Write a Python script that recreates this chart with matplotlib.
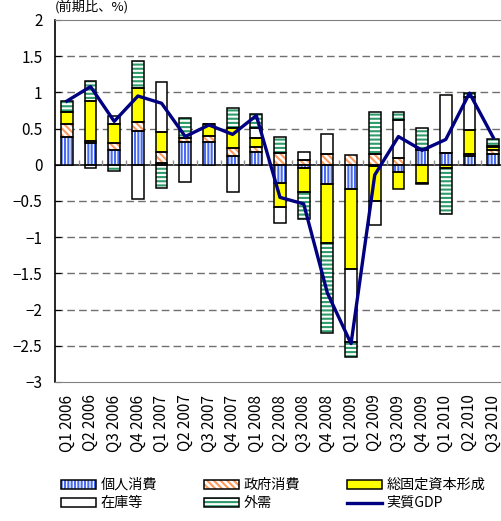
import numpy as np
import matplotlib
matplotlib.use('Agg')
import matplotlib.pyplot as plt
from matplotlib.patches import Patch
from matplotlib.lines import Line2D
from matplotlib.legend_handler import HandlerTuple

plt.rcParams['font.family'] = ['Noto Sans CJK JP', 'DejaVu Sans']
plt.rcParams['hatch.linewidth'] = 1.5

# Quarter labels
quarters = ['Q1 2006', 'Q2 2006', 'Q3 2006', 'Q4 2006',
            'Q1 2007', 'Q2 2007', 'Q3 2007', 'Q4 2007',
            'Q1 2008', 'Q2 2008', 'Q3 2008', 'Q4 2008',
            'Q1 2009', 'Q2 2009', 'Q3 2009', 'Q4 2009',
            'Q1 2010', 'Q2 2010', 'Q3 2010']

# Contributions (percentage points)
kojin = [0.39, 0.30, 0.21, 0.46, 0.02, 0.32, 0.31, 0.115, 0.175, -0.25,
         -0.05, -0.27, -0.335, -0.01, -0.10, 0.21, 0.16, 0.12, 0.15]
seifu = [0.18, 0.03, 0.09, 0.13, 0.15, 0.05, 0.09, 0.115, 0.065, 0.16,
         0.07, 0.15, 0.14, 0.15, 0.10, 0.01, 0.0, 0.03, 0.06]
kotei = [0.16, 0.55, 0.27, 0.47, 0.28, 0.0, 0.17, 0.285, 0.13, -0.33,
         -0.32, -0.81, -1.10, -0.49, -0.23, -0.25, -0.045, 0.33, 0.03]
zaiko = [0.0, -0.05, 0.10, -0.47, 0.69, -0.24, 0.0, -0.37, 0.145, -0.23,
         0.10, 0.27, -1.01, -0.33, 0.52, -0.02, 0.80, 0.45, 0.02]
gaiju = [0.15, 0.28, -0.08, 0.38, -0.32, 0.27, 0.0, 0.265, 0.185, 0.23,
         -0.38, -1.24, -0.21, 0.58, 0.11, 0.29, -0.64, 0.06, 0.10]
gdp = [0.88, 1.08, 0.60, 0.95, 0.85, 0.39, 0.55, 0.42, 0.68, -0.45,
       -0.54, -1.77, -2.47, -0.14, 0.39, 0.20, 0.35, 0.99, 0.38]

names = ['個人消費', '政府消費', '総固定資本形成', '在庫等', '外需']
series = [kojin, seifu, kotei, zaiko, gaiju]
# (face, hatch, hatch colour)
styles = [('white', '|||||', '#4a6cf2'),
          ('white', '\\\\\\\\\\', '#ff9a5c'),
          ('#ffff00', '', '#ffff00'),
          ('white', '', 'white'),
          ('white', '----', '#2f9a6a')]

fig = plt.figure(figsize=(5.01, 5.21), dpi=100)
ax = fig.add_axes([55 / 501, 139 / 521, 450 / 501, 362 / 521])

x = np.arange(len(quarters))
w = 0.5
pos = np.zeros(len(x))
neg = np.zeros(len(x))
handles = []
for vals, name, (fc, hatch, hc) in zip(series, names, styles):
    v = np.array(vals)
    bottom = np.where(v >= 0, pos, neg)
    ax.bar(x, v, w, bottom=bottom, color=fc, hatch=hatch, edgecolor=hc,
           linewidth=0, zorder=3)
    ax.bar(x, v, w, bottom=bottom, fill=False, edgecolor='black',
           linewidth=1.1, zorder=4)
    pos = pos + np.clip(v, 0, None)
    neg = neg + np.clip(v, None, 0)
    handles.append((Patch(facecolor=fc, hatch=hatch, edgecolor=hc, linewidth=0),
                    Patch(fill=False, edgecolor='black', linewidth=1.1)))

ax.plot(x, gdp, color='#000080', linewidth=2.4, zorder=5)

ax.set_xlim(-0.5, len(x) - 0.5)
ax.set_ylim(-3, 2)
ax.set_yticks(np.arange(-3, 2.01, 0.5))
ax.set_yticklabels(['\u22123', '\u22122.5', '\u22122', '\u22121.5', '\u22121',
                    '\u22120.5', '0', '0.5', '1', '1.5', '2'], fontsize=11)
for yv in np.arange(-2.5, 1.6, 0.5):
    if abs(yv) > 1e-9:
        ax.axhline(yv, color='#707070', linewidth=1.0,
                   linestyle=(0, (5.5, 3)), zorder=1)
ax.axhline(0, color='black', linewidth=1.1, zorder=2)
ax.vlines(x[1:] - 0.5, 0, 0.07, color='#909090', linewidth=1.0, zorder=2)

ax.set_xticks(x)
ax.set_xticklabels(quarters, rotation=90, fontsize=11)
ax.tick_params(axis='x', length=0, pad=9)
ax.tick_params(axis='y', direction='in', length=4, pad=9)

for s in ['top', 'bottom']:
    ax.spines[s].set_color('#808080')
ax.spines['right'].set_visible(False)
ax.spines['left'].set_color('black')
ax.spines['left'].set_linewidth(1.2)

fig.text(55 / 501, 1.0, '(前期比、%)', fontsize=9.5,
         ha='left', va='top')

leg_handles = [handles[0], handles[3], handles[1], handles[4], handles[2],
               Line2D([], [], color='#000080', linewidth=2.4)]
leg_labels = [names[0], names[3], names[1], names[4], names[2], '実質GDP']
fig.legend(leg_handles, leg_labels, ncol=3, loc='upper left',
           bbox_to_anchor=(61 / 501, 1 - 478 / 521), frameon=False,
           fontsize=10.2, handlelength=2.5, handleheight=0.6,
           handletextpad=0.3, columnspacing=3.3, labelspacing=0.3,
           borderpad=0, borderaxespad=0,
           handler_map={tuple: HandlerTuple(ndivide=1)})

fig.savefig('out.png', dpi=100)
